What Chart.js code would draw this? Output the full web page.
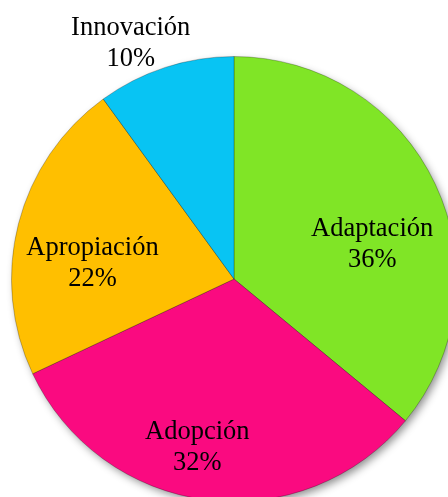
<!DOCTYPE html>
<html>
<head>
<meta charset="utf-8">
<script src="https://cdn.jsdelivr.net/npm/chart.js@4/dist/chart.umd.min.js"></script>
<style>
  html, body { margin: 0; padding: 0; background: #ffffff; overflow: hidden; width: 448px; height: 497px; }
  #wrap { position: absolute; left: 0; top: 0; width: 470px; height: 510px; }
</style>
</head>
<body>
<div id="wrap"><canvas id="c" width="470" height="510"></canvas></div>
<script>
const categories = ["Adaptación", "Adopción", "Apropiación", "Innovación"];
const values = [36, 32, 22, 10];
const valueLabels = ["36%", "32%", "22%", "10%"];
const sliceColors = ["#80e526", "#fa0a80", "#ffbf00", "#08c4f3"];
const edgeColors = ["#5aa816", "#b8005e", "#cc9200", "#008fb8"];

function radialFill(ctx, i) {
  const chart = ctx.chart;
  const meta = chart.getDatasetMeta(0);
  const arc = meta.data[i];
  if (!arc || !arc.outerRadius) return sliceColors[i];
  const g = chart.ctx.createRadialGradient(arc.x, arc.y, 0, arc.x, arc.y, arc.outerRadius);
  g.addColorStop(0, sliceColors[i]);
  g.addColorStop(0.92, sliceColors[i]);
  g.addColorStop(1, edgeColors[i]);
  return g;
}

const shadowPlugin = {
  id: 'pieShadow',
  beforeDatasetsDraw(chart) {
    const arc = chart.getDatasetMeta(0).data[0];
    if (!arc) return;
    const ctx = chart.ctx;
    ctx.save();
    ctx.shadowColor = 'rgba(0,0,0,0.45)';
    ctx.shadowBlur = 9;
    ctx.shadowOffsetX = 3;
    ctx.shadowOffsetY = 4;
    ctx.beginPath();
    ctx.arc(arc.x, arc.y, arc.outerRadius - 1, 0, Math.PI * 2);
    ctx.fillStyle = '#888888';
    ctx.fill();
    ctx.restore();
  }
};

const labelPlugin = {
  id: 'sliceLabels',
  afterDatasetsDraw(chart, args, opts) {
    const meta = chart.getDatasetMeta(0);
    const arc0 = meta.data[0];
    const cx = arc0.x, cy = arc0.y, R = arc0.outerRadius;
    const ctx = chart.ctx;
    ctx.save();
    ctx.font = opts.font;
    ctx.fillStyle = '#000000';
    ctx.textAlign = 'center';
    ctx.textBaseline = 'middle';
    opts.place.forEach((p, i) => {
      const a = p.angle * Math.PI / 180;
      const x = cx + Math.sin(a) * p.r * R;
      const y = cy - Math.cos(a) * p.r * R;
      ctx.fillText(categories[i], x, y - opts.lineGap / 2);
      ctx.fillText(valueLabels[i], x, y + opts.lineGap / 2);
    });
    ctx.restore();
  }
};

new Chart(document.getElementById('c'), {
  type: 'pie',
  data: {
    labels: categories,
    datasets: [{
      data: values,
      backgroundColor: (ctx) => radialFill(ctx, ctx.dataIndex),
      borderColor: 'rgba(0,0,0,0.25)',
      borderWidth: 1
    }]
  },
  options: {
    responsive: false,
    animation: false,
    layout: { padding: { left: 11, top: 56, right: 13, bottom: 8 } },
    plugins: {
      legend: { display: false },
      tooltip: { enabled: false },
      sliceLabels: {
        font: '26.5px "Liberation Serif", "Times New Roman", serif',
        lineGap: 31,
        place: [
          { r: 0.64, angle: 76 },
          { r: 0.775, angle: 192.3 },
          { r: 0.64, angle: 276.4 },
          { r: 1.155, angle: 336.3 }
        ]
      }
    }
  },
  plugins: [shadowPlugin, labelPlugin]
});
</script>
</body>
</html>
